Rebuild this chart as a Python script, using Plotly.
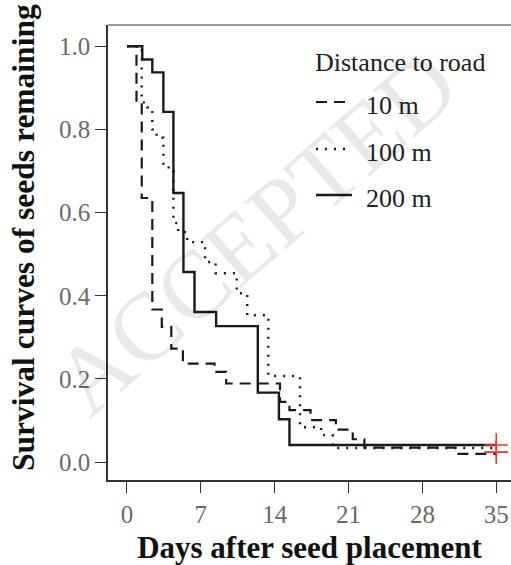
import plotly.graph_objects as go

# ---- data ----
days_10 = [0, 0.9, 1.4, 2.4, 3.3, 4.2, 5.3, 8.3, 9.4, 14.5, 15.4, 17.4, 19.8, 21.4, 22.5, 31.3, 35]
surv_10 = [1.0, 0.86, 0.635, 0.367, 0.325, 0.273, 0.237, 0.217, 0.189, 0.145, 0.125, 0.101, 0.078, 0.055, 0.035, 0.02, 0.02]

days_100 = [0, 1.4, 1.9, 2.4, 2.8, 3.45, 3.95, 4.4, 4.85, 5.7, 7.4, 8.4, 10.4, 11.4, 13.4, 16.4, 18.4, 19.5, 35]
surv_100 = [1.0, 0.865, 0.853, 0.80, 0.78, 0.714, 0.70, 0.575, 0.553, 0.529, 0.481, 0.454, 0.406, 0.353, 0.207, 0.084, 0.065, 0.034, 0.034]

days_200 = [0, 1.45, 2.4, 3.45, 4.4, 5.35, 6.4, 8.45, 12.4, 14.4, 15.4, 35]
surv_200 = [1.0, 0.968, 0.937, 0.842, 0.647, 0.457, 0.361, 0.327, 0.167, 0.103, 0.041, 0.041]

series_names = ["10 m", "100 m", "200 m"]
x_ticks = [0, 7, 14, 21, 28, 35]
y_ticks = [0.0, 0.2, 0.4, 0.6, 0.8, 1.0]
y_tick_text = ["0.0", "0.2", "0.4", "0.6", "0.8", "1.0"]

SERIF = "Liberation Serif, Times New Roman, serif"
INK = "#1a1a1a"

W, H = 511, 565
ML, MR, MT, MB = 108, 0, 25, 85

fig = go.Figure()

styles = [
    dict(dash="11px,7px", width=2.2),
    dict(dash="2px,7px", width=2.4),
    dict(dash="solid", width=2.4),
]
for name, xs, ys, st in zip(series_names, [days_10, days_100, days_200],
                            [surv_10, surv_100, surv_200], styles):
    fig.add_trace(go.Scatter(
        x=xs, y=ys, mode="lines", name=name, line_shape="hv",
        line=dict(color=INK, width=st["width"], dash=st["dash"]),
        showlegend=False, hoverinfo="skip"))

# censor marks at the end of the study (red crosses)
fig.add_trace(go.Scatter(
    x=[days_200[-1], days_10[-1]], y=[surv_200[-1], surv_10[-1] + 0.004],
    mode="markers", showlegend=False, hoverinfo="skip",
    marker=dict(symbol="cross-thin", size=17, line=dict(color="#ff3030", width=1.6)),
    cliponaxis=False))

fig.update_xaxes(
    range=[-1.8, 36.4], tickvals=x_ticks, ticks="outside", ticklen=11, tickwidth=1.3,
    tickcolor="#333", showline=True, linecolor="#333", linewidth=1.6,
    showgrid=False, zeroline=False,
    tickfont=dict(family=SERIF, size=25, color="#6a6a6a"),
    title=dict(text="<b>Days after seed placement</b>", standoff=14,
               font=dict(family=SERIF, size=31, color="#111")))
fig.update_yaxes(
    range=[-0.043, 1.051], tickvals=y_ticks, ticktext=y_tick_text, ticks="outside",
    ticklen=11, tickwidth=1.3, tickcolor="#333", showline=True, linecolor="#333",
    linewidth=1.6, showgrid=False, zeroline=False,
    tickfont=dict(family=SERIF, size=25, color="#6a6a6a"))

def px2paper(px, py):
    return (px - ML) / (W - ML - MR), (H - MB - py) / (H - MT - MB)

# y-axis title placed as an annotation to match its position
yx, yy = px2paper(23, 238)
fig.add_annotation(x=yx, y=yy, xref="paper", yref="paper",
                   text="<b>Survival curves of seeds remaining</b>", showarrow=False,
                   textangle=-90, xanchor="center", yanchor="middle",
                   font=dict(family=SERIF, size=31.5, color="#111"))

# top frame line
fig.add_shape(type="line", xref="paper", yref="paper", x0=0, x1=1, y0=1, y1=1,
              line=dict(color="#9a9a9a", width=2.2))

# legend (custom, to match spacing)
tx, ty = px2paper(313, 62)
fig.add_annotation(x=tx, y=ty, xref="paper", yref="paper", text="Distance to road",
                   showarrow=False, xanchor="left", yanchor="middle",
                   font=dict(family=SERIF, size=26, color="#222"))
leg_y = [102, 149, 195]
for name, st, py in zip(series_names, styles, leg_y):
    x0, y0 = px2paper(316, py)
    x1, _ = px2paper(352, py)
    fig.add_shape(type="line", xref="paper", yref="paper", x0=x0, x1=x1, y0=y0, y1=y0,
                  line=dict(color=INK, width=st["width"], dash=st["dash"]))
    lx, ly = px2paper(364, py + 3)
    fig.add_annotation(x=lx, y=ly, xref="paper", yref="paper", text=name,
                       showarrow=False, xanchor="left", yanchor="middle",
                       font=dict(family=SERIF, size=26, color="#222"))

# faint "ACCEPTED" watermark
wx, wy = px2paper(255, 232)
fig.add_annotation(x=wx, y=wy, xref="paper", yref="paper", text="ACCEPTED",
                   showarrow=False, textangle=-41, xanchor="center", yanchor="middle",
                   font=dict(family=SERIF, size=96, color="rgba(0,0,0,0.085)"))

fig.update_layout(
    width=W, height=H, margin=dict(l=ML, r=MR, t=MT, b=MB),
    paper_bgcolor="white", plot_bgcolor="white", showlegend=False)

fig.write_html("out.html")
